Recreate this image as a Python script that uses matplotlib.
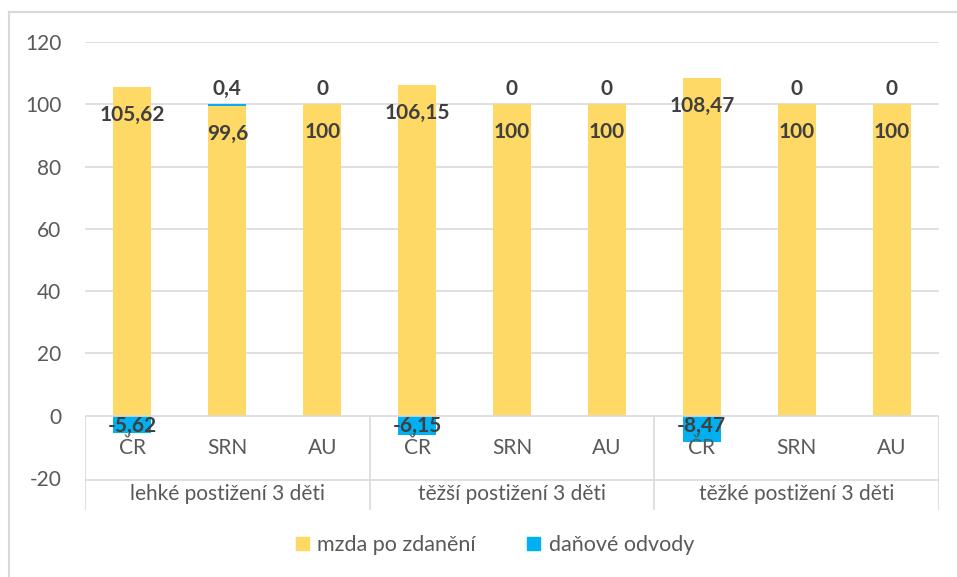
import numpy as np
import matplotlib.pyplot as plt
from matplotlib.patches import Patch

plt.rcParams['font.family'] = ['Lato', 'DejaVu Sans']

# data
groups = ['lehké postižení 3 děti', 'těžší postižení 3 děti', 'těžké postižení 3 děti']
countries = ['ČR', 'SRN', 'AU']
mzda = [105.62, 99.6, 100, 106.15, 100, 100, 108.47, 100, 100]
odvody = [-5.62, 0.4, 0, -6.15, 0, 0, -8.47, 0, 0]

yellow = '#FFD966'
blue = '#00B0F0'
grid_c = '#D9D9D9'
txt = '#595959'
lab = '#404040'
fs = 15

W, H = 957, 577
fig = plt.figure(figsize=(W / 100, H / 100), dpi=100)
ax = fig.add_axes([85 / W, (H - 510) / H, (939 - 85) / W, (510 - 42) / H])

ymin = 120 - (510 - 42) / ((478 - 42) / 140)
ax.set_xlim(-0.5, 8.5)
ax.set_ylim(ymin, 120)
for s in ax.spines.values():
    s.set_visible(False)

x = np.arange(len(mzda))
mz = np.array(mzda)
od = np.array(odvody)
pos_base = np.where(od >= 0, mz, 0)

# gridlines
for g in range(20, 121, 20):
    ax.hlines(g, -0.5, 8.5, color=grid_c, lw=1.2, zorder=0)

ax.bar(x, mz, width=0.4, color=yellow, zorder=2)
ax.bar(x, od, width=0.4, bottom=pos_base, color=blue, zorder=2)

# category table
ax.hlines(0, -0.5, 8.5, color=grid_c, lw=1.2, zorder=3)
ax.hlines(-20.6, -0.5, 8.5, color=grid_c, lw=1.2, zorder=3)
for vx in [-0.5, 2.5, 5.5, 8.5]:
    ax.vlines(vx, ymin, 0, color=grid_c, lw=1.2, zorder=3)
for i in x:
    ax.text(i, -10.4, countries[i % 3], ha='center', va='center', fontsize=fs, color=txt)
for j, g in enumerate(groups):
    ax.text(3 * j + 1, -25.1, g, ha='center', va='center', fontsize=fs, color=txt)

# data labels
for i in x:
    ax.text(i, mz[i] - 9, f'{mz[i]:g}'.replace('.', ','), ha='center', va='center',
            fontsize=fs, fontweight='bold', color=lab, zorder=4)
    if od[i] < 0:
        ax.text(i, -3.3, f'{od[i]:g}'.replace('.', ','), ha='center', va='center',
                fontsize=fs, fontweight='bold', color=lab, zorder=4)
    else:
        ax.text(i, mz[i] + od[i] + 5, f'{od[i]:g}'.replace('.', ','), ha='center', va='center',
                fontsize=fs, fontweight='bold', color=lab, zorder=4)

ax.set_yticks(range(-20, 121, 20))
ax.set_yticklabels([str(v) for v in range(-20, 121, 20)])
ax.tick_params(axis='y', length=0, labelsize=fs, labelcolor=txt, pad=17)
ax.set_xticks([])

handles = [Patch(color=yellow, label='mzda po zdanění'), Patch(color=blue, label='daňové odvody')]
fig.legend(handles=handles, loc='center', bbox_to_anchor=(495 / W, 1 - 545 / H), ncol=2,
           frameon=False, fontsize=15.5, labelcolor=txt, handlelength=0.6, handleheight=0.6,
           handletextpad=0.4, columnspacing=2.4)

# outer chart frame
fig.add_artist(plt.Line2D([9 / W, 9 / W], [0, 1 - 12 / H], color=grid_c, lw=1.5))
fig.add_artist(plt.Line2D([9 / W, 1], [1 - 12 / H, 1 - 12 / H], color=grid_c, lw=1.5))

fig.savefig('out.png', dpi=100)
